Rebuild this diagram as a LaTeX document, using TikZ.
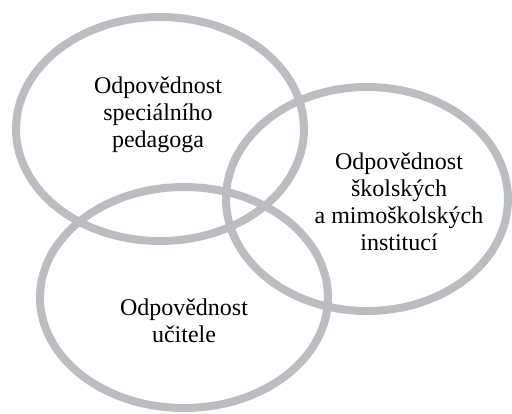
\documentclass[tikz,border=0pt]{standalone}
\usepackage{fontspec}
\setmainfont{Liberation Serif}
\begin{document}
\begin{tikzpicture}[x=1pt,y=-1pt,
  ring/.style={draw=ringgray,line width=8pt},
  label/.style={align=center,font=\fontsize{24}{27}\selectfont,text=black,inner sep=0pt}]
\definecolor{ringgray}{HTML}{BCBDC0}
\useasboundingbox (0,0) rectangle (512,413);
% three overlapping areas of responsibility
\draw[ring] (160,129) ellipse [x radius=144, y radius=112];
\draw[ring] (367,199) ellipse [x radius=141, y radius=112];
\draw[ring] (184,297.5) ellipse [x radius=144, y radius=110.5];
% labels
\node[label] (spec) at (158,115) {Odpovědnost\\speciálního\\pedagoga};
\node[label] (inst) at (399,202) {Odpovědnost\\školských\\a mimoškolských\\institucí};
\node[label] (ucit) at (184,321) {Odpovědnost\\učitele};
\end{tikzpicture}
\end{document}
